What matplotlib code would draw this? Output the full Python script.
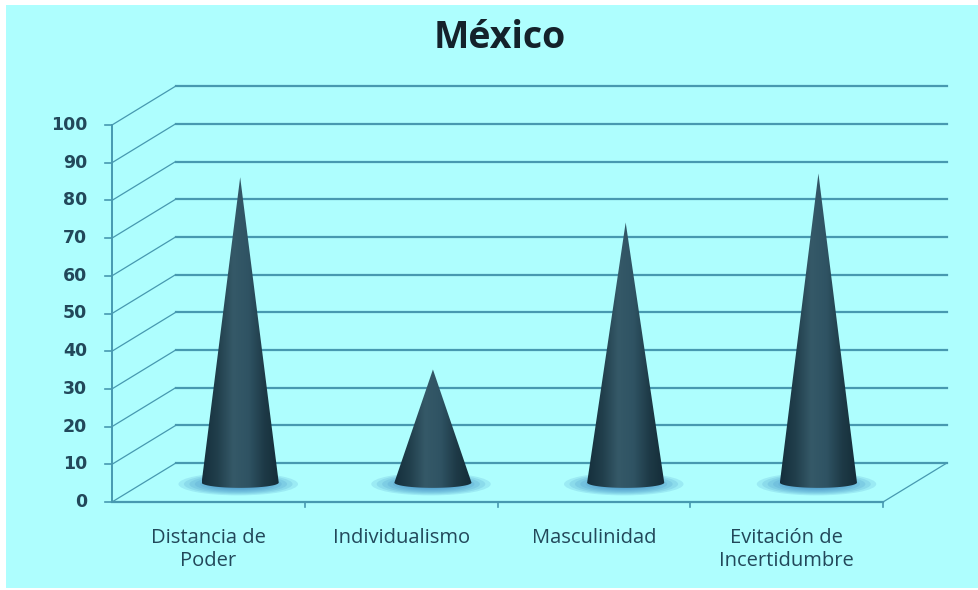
import numpy as np
import matplotlib
matplotlib.use("Agg")
import matplotlib.pyplot as plt
from matplotlib.patches import Rectangle, Ellipse, PathPatch
from matplotlib.path import Path
from matplotlib.colors import LinearSegmentedColormap

# datos del grafico
categorias = ["Distancia de\nPoder", "Individualismo", "Masculinidad", "Evitación de\nIncertidumbre"]
valores = [81, 30, 69, 82]
ticks_y = list(range(0, 101, 10))
titulo = "México"

fondo = "#aefefe"
linea = "#4799b0"
texto = "#22485a"

# "profundidad" falsa del 3D (en unidades de categoria / valor)
dx = 0.33
dy = 10.3
# escala de pixeles para alinear el eje con la figura
px_x = 192.75
px_y = 3.77
x0_px = 112
y0_px = 502

fig = plt.figure(figsize=(9.79, 5.90), dpi=100)
fig.patch.set_facecolor("white")
fig.patches.append(Rectangle((6 / 979, 2 / 590), 973 / 979, 583 / 590,
                             transform=fig.transFigure, facecolor=fondo,
                             edgecolor="none", zorder=-5))

ax = fig.add_axes([0, 0, 1, 1])
ax.set_zorder(1)
ax.axis("off")
ax.patch.set_alpha(0)

n = len(categorias)

# pared del fondo y lineas diagonales
for v in ticks_y:
    ax.plot([dx, n + dx], [v + dy, v + dy], color=linea, lw=1.6, zorder=1)
    ax.plot([0, dx], [v, v + dy], color=linea, lw=0.9, zorder=1)
    ax.plot([-0.035, 0], [v, v], color=linea, lw=1.2, zorder=1)
    ax.text(-0.13, v, str(v), ha="right", va="center", fontsize=12.5,
            fontweight="bold", color=texto, family="DejaVu Sans")

# eje frontal y piso
ax.plot([0, 0], [0, 100], color=linea, lw=1.4, zorder=1)
ax.plot([0, n], [0, 0], color=linea, lw=1.6, zorder=1)
ax.plot([n, n + dx], [0, dy], color=linea, lw=0.9, zorder=1)
for i in range(1, n + 1):
    ax.plot([i, i], [0, -1.3], color=linea, lw=1.2, zorder=1)

# conos
cmap = LinearSegmentedColormap.from_list(
    "cono", ["#152f3c", "#213f4c", "#355968", "#2f5363", "#1e3a47", "#142c38"])
grad = np.linspace(0, 1, 200)[None, :]
r = 0.2
ry = 1.4
for i, v in enumerate(valores):
    cx = i + 0.5 + 0.5 * dx
    cy = 0.5 * dy
    # sombra
    for k in range(9):
        f = 1 - k / 11
        ax.add_patch(Ellipse((cx - 0.01, cy - 0.4), 0.62 * f, 6.0 * f,
                             facecolor="#3a88c2", edgecolor="none",
                             alpha=0.16, zorder=2))
    t = np.linspace(0, -np.pi, 40)
    verts = [(cx, cy + v)] + [(cx + r * np.cos(a), cy + ry * np.sin(a)) for a in t] + [(cx, cy + v)]
    codes = [Path.MOVETO] + [Path.LINETO] * (len(verts) - 2) + [Path.CLOSEPOLY]
    patch = PathPatch(Path(verts, codes), facecolor="none", edgecolor="none")
    ax.add_patch(patch)
    im = ax.imshow(grad, cmap=cmap, aspect="auto", zorder=3,
                   extent=[cx - r, cx + r, cy - ry, cy + v], interpolation="bilinear")
    im.set_clip_path(patch)

# etiquetas de categorias
for i, c in enumerate(categorias):
    ax.text(i + 0.5, -7.0, c, ha="center", va="top", fontsize=14.5,
            color=texto, family="Open Sans", linespacing=1.2)

ax.set_xlim(-x0_px / px_x, (979 - x0_px) / px_x)
ax.set_ylim(-(590 - y0_px) / px_y, y0_px / px_y)

fig.text(500 / 979, 1 - 38 / 590, titulo, ha="center", va="center",
         fontsize=27, fontweight="bold", color="#14222b", family="Open Sans")

fig.savefig("out.png", dpi=100, facecolor=fig.get_facecolor())
